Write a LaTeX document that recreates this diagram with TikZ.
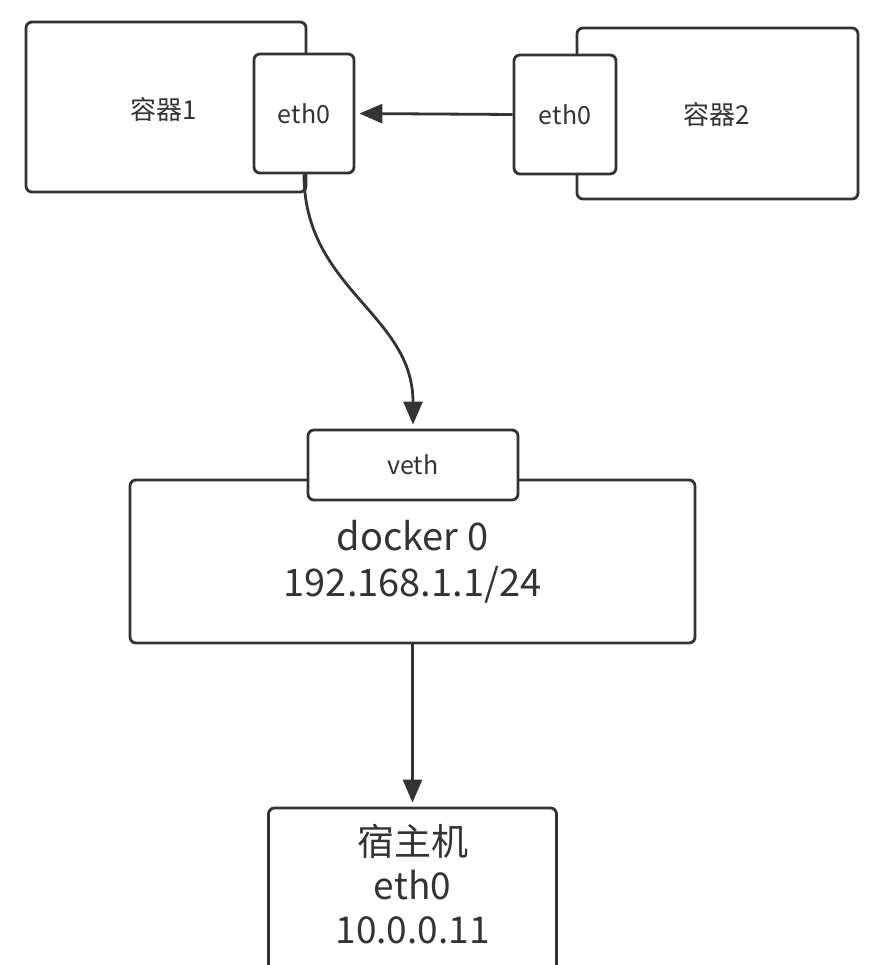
\documentclass[tikz,border=0pt]{standalone}
\usepackage{fontspec}
\setmainfont{Noto Sans CJK SC}
\usetikzlibrary{arrows.meta}
\definecolor{ink}{HTML}{333333}
\tikzset{
  box/.style={draw=ink, line width=2.8pt, rounded corners=6pt, fill=white, inner sep=0pt, text=ink, align=center},
  conn/.style={draw=ink, line width=2.8pt, -{Triangle[length=23pt,width=19pt]}, shorten >=4pt},
  small/.style={font=\fontsize{25}{30}\selectfont},
  mid/.style={font=\fontsize{26}{30}\selectfont},
  big/.style={font=\fontsize{38}{46}\selectfont},
}
\begin{document}
\begin{tikzpicture}[x=1pt,y=-1pt]
\useasboundingbox (0,0) rectangle (879,965);
\fill[white] (0,0) rectangle (879,965);
% containers
\node[box, mid, minimum width=280pt, minimum height=170pt] (c1) at (166,107) {};
\node[text=ink, mid] (c1t) at (164,110) {容器1};
\node[box, small, minimum width=100pt, minimum height=119pt] (e1) at (304,113.5) {eth0};
\node[box, mid, minimum width=281pt, minimum height=171pt] (c2) at (717.5,113.5) {};
\node[text=ink, mid] (c2t) at (717,115) {容器2};
\node[box, small, minimum width=102pt, minimum height=119pt] (e2) at (565,114.5) {eth0};
% bridge
\node[box, big, minimum width=565pt, minimum height=163pt] (dk) at (412.5,561.5) {docker 0\\192.168.1.1/24};
\node[box, small, minimum width=210pt, minimum height=70pt] (veth) at (413,465) {veth};
% host
\node[box, minimum width=288pt, minimum height=200pt] (hostbox) at (412.5,908) {};
\node[text=ink, font=\fontsize{37}{44}\selectfont, align=center] (hostt) at (412.5,884) {宿主机\\eth0\\10.0.0.11};
% connectors
\draw[conn] (e2.west) -- (e1.east);
\draw[conn] (e1.south) .. controls +(0,115) and +(0,-115) .. (veth.north);
\draw[conn] (dk.south) -- (hostbox.north);
\end{tikzpicture}
\end{document}
